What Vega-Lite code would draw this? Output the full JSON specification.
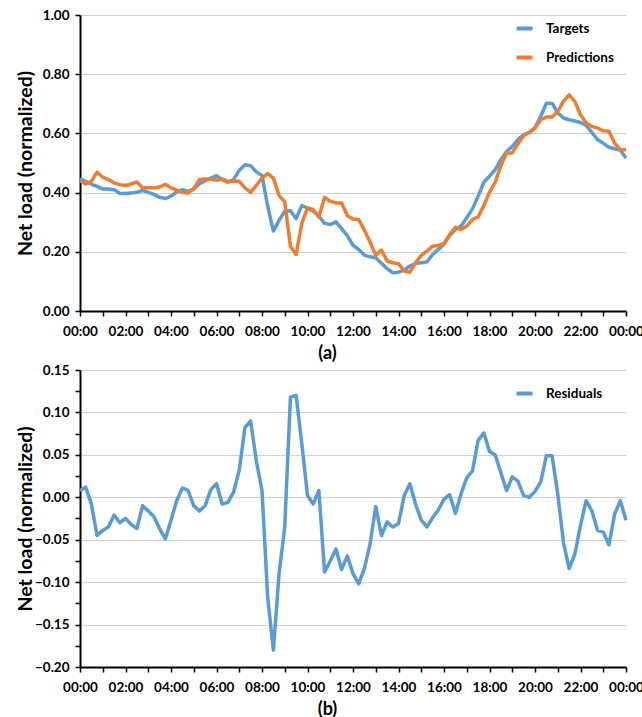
{
  "$schema": "https://vega.github.io/schema/vega-lite/v6.json",
  "background": "white",
  "padding": {"left": 15, "top": 8, "right": 10, "bottom": 0},
  "spacing": 0,
  "config": {
    "font": "Lato",
    "view": {"stroke": null},
    "axis": {
      "domainColor": "black", "domainWidth": 2, "tickColor": "black", "tickWidth": 1.5, "tickSize": 5,
      "labelFont": "Lato", "labelFontWeight": "bold", "labelFontSize": 13.5, "labelColor": "black",
      "titleFont": "Lato", "titleFontWeight": "bold", "titleColor": "black",
      "gridColor": "#D0D0D0", "gridWidth": 1
    },
    "legend": {"labelFont": "Lato", "labelFontWeight": "bold", "labelFontSize": 13.5, "labelColor": "black"}
  },
  "datasets": {
    "d": [
      {"h":0,"tgt":0.446,"prd":0.440,"res":0.008},{"h":0.25,"tgt":0.438,"prd":0.429,"res":0.012},{"h":0.5,"tgt":0.429,"prd":0.438,"res":-0.008},{"h":0.75,"tgt":0.421,"prd":0.469,"res":-0.045},
      {"h":1,"tgt":0.412,"prd":0.452,"res":-0.039},{"h":1.25,"tgt":0.412,"prd":0.444,"res":-0.035},{"h":1.5,"tgt":0.410,"prd":0.433,"res":-0.021},{"h":1.75,"tgt":0.397,"prd":0.427,"res":-0.030},
      {"h":2,"tgt":0.397,"prd":0.424,"res":-0.025},{"h":2.25,"tgt":0.399,"prd":0.429,"res":-0.032},{"h":2.5,"tgt":0.401,"prd":0.436,"res":-0.037},{"h":2.75,"tgt":0.407,"prd":0.416,"res":-0.010},
      {"h":3,"tgt":0.401,"prd":0.416,"res":-0.016},{"h":3.25,"tgt":0.394,"prd":0.416,"res":-0.023},{"h":3.5,"tgt":0.384,"prd":0.419,"res":-0.037},{"h":3.75,"tgt":0.380,"prd":0.428,"res":-0.049},
      {"h":4,"tgt":0.388,"prd":0.416,"res":-0.027},{"h":4.25,"tgt":0.402,"prd":0.408,"res":-0.004},{"h":4.5,"tgt":0.410,"prd":0.401,"res":0.011},{"h":4.75,"tgt":0.404,"prd":0.399,"res":0.008},
      {"h":5,"tgt":0.412,"prd":0.413,"res":-0.010},{"h":5.25,"tgt":0.430,"prd":0.444,"res":-0.016},{"h":5.5,"tgt":0.440,"prd":0.446,"res":-0.010},{"h":5.75,"tgt":0.449,"prd":0.446,"res":0.009},
      {"h":6,"tgt":0.457,"prd":0.442,"res":0.016},{"h":6.25,"tgt":0.444,"prd":0.446,"res":-0.008},{"h":6.5,"tgt":0.435,"prd":0.438,"res":-0.006},{"h":6.75,"tgt":0.444,"prd":0.438,"res":0.006},
      {"h":7,"tgt":0.475,"prd":0.438,"res":0.032},{"h":7.25,"tgt":0.494,"prd":0.416,"res":0.082},{"h":7.5,"tgt":0.491,"prd":0.401,"res":0.090},{"h":7.75,"tgt":0.470,"prd":0.424,"res":0.043},
      {"h":8,"tgt":0.458,"prd":0.449,"res":0.008},{"h":8.25,"tgt":0.354,"prd":0.464,"res":-0.118},{"h":8.5,"tgt":0.270,"prd":0.449,"res":-0.180},{"h":8.75,"tgt":0.306,"prd":0.390,"res":-0.090},
      {"h":9,"tgt":0.337,"prd":0.369,"res":-0.035},{"h":9.25,"tgt":0.339,"prd":0.219,"res":0.118},{"h":9.5,"tgt":0.312,"prd":0.191,"res":0.120},{"h":9.75,"tgt":0.356,"prd":0.296,"res":0.063},
      {"h":10,"tgt":0.348,"prd":0.348,"res":0.002},{"h":10.25,"tgt":0.337,"prd":0.343,"res":-0.008},{"h":10.5,"tgt":0.320,"prd":0.318,"res":0.008},{"h":10.75,"tgt":0.296,"prd":0.384,"res":-0.088},
      {"h":11,"tgt":0.292,"prd":0.371,"res":-0.075},{"h":11.25,"tgt":0.301,"prd":0.365,"res":-0.061},{"h":11.5,"tgt":0.278,"prd":0.365,"res":-0.085},{"h":11.75,"tgt":0.255,"prd":0.322,"res":-0.069},
      {"h":12,"tgt":0.222,"prd":0.311,"res":-0.090},{"h":12.25,"tgt":0.208,"prd":0.309,"res":-0.102},{"h":12.5,"tgt":0.189,"prd":0.273,"res":-0.084},{"h":12.75,"tgt":0.183,"prd":0.233,"res":-0.055},
      {"h":13,"tgt":0.180,"prd":0.188,"res":-0.011},{"h":13.25,"tgt":0.161,"prd":0.206,"res":-0.045},{"h":13.5,"tgt":0.143,"prd":0.169,"res":-0.029},{"h":13.75,"tgt":0.129,"prd":0.163,"res":-0.035},
      {"h":14,"tgt":0.131,"prd":0.160,"res":-0.031},{"h":14.25,"tgt":0.138,"prd":0.135,"res":0.002},{"h":14.5,"tgt":0.152,"prd":0.131,"res":0.016},{"h":14.75,"tgt":0.160,"prd":0.163,"res":-0.008},
      {"h":15,"tgt":0.163,"prd":0.188,"res":-0.027},{"h":15.25,"tgt":0.166,"prd":0.202,"res":-0.035},{"h":15.5,"tgt":0.191,"prd":0.219,"res":-0.024},{"h":15.75,"tgt":0.208,"prd":0.221,"res":-0.015},
      {"h":16,"tgt":0.226,"prd":0.228,"res":-0.002},{"h":16.25,"tgt":0.255,"prd":0.258,"res":0.003},{"h":16.5,"tgt":0.275,"prd":0.283,"res":-0.019},{"h":16.75,"tgt":0.287,"prd":0.275,"res":0.004},
      {"h":17,"tgt":0.315,"prd":0.287,"res":0.023},{"h":17.25,"tgt":0.345,"prd":0.309,"res":0.031},{"h":17.5,"tgt":0.388,"prd":0.318,"res":0.067},{"h":17.75,"tgt":0.435,"prd":0.356,"res":0.076},
      {"h":18,"tgt":0.455,"prd":0.401,"res":0.054},{"h":18.25,"tgt":0.478,"prd":0.435,"res":0.050},{"h":18.5,"tgt":0.511,"prd":0.491,"res":0.029},{"h":18.75,"tgt":0.539,"prd":0.534,"res":0.008},
      {"h":19,"tgt":0.556,"prd":0.534,"res":0.024},{"h":19.25,"tgt":0.579,"prd":0.565,"res":0.019},{"h":19.5,"tgt":0.596,"prd":0.592,"res":0.002},{"h":19.75,"tgt":0.603,"prd":0.603,"res":0.000},
      {"h":20,"tgt":0.620,"prd":0.618,"res":0.007},{"h":20.25,"tgt":0.657,"prd":0.646,"res":0.018},{"h":20.5,"tgt":0.702,"prd":0.655,"res":0.049},{"h":20.75,"tgt":0.702,"prd":0.655,"res":0.049},
      {"h":21,"tgt":0.669,"prd":0.674,"res":0.004},{"h":21.25,"tgt":0.652,"prd":0.708,"res":-0.053},{"h":21.5,"tgt":0.646,"prd":0.730,"res":-0.084},{"h":21.75,"tgt":0.642,"prd":0.708,"res":-0.067},
      {"h":22,"tgt":0.637,"prd":0.663,"res":-0.033},{"h":22.25,"tgt":0.627,"prd":0.635,"res":-0.004},{"h":22.5,"tgt":0.603,"prd":0.624,"res":-0.016},{"h":22.75,"tgt":0.579,"prd":0.618,"res":-0.039},
      {"h":23,"tgt":0.567,"prd":0.609,"res":-0.041},{"h":23.25,"tgt":0.553,"prd":0.607,"res":-0.056},{"h":23.5,"tgt":0.548,"prd":0.567,"res":-0.020},{"h":23.75,"tgt":0.543,"prd":0.545,"res":-0.004},
      {"h":24,"tgt":0.517,"prd":0.545,"res":-0.027}
    ]
  },
  "resolve": {"scale": {"color": "independent"}, "legend": {"color": "independent"}},
  "vconcat": [
    {
      "width": 546, "height": 296,
      "data": {"name": "d"},
      "encoding": {
        "x": {"field": "h", "type": "quantitative", "scale": {"domain": [0, 24], "nice": false, "zero": false},
          "axis": {"title": "(a)", "titleFontSize": 18, "titleX": 247, "titlePadding": 7, "labelPadding": 8, "grid": false,
            "values": [0,1,2,3,4,5,6,7,8,9,10,11,12,13,14,15,16,17,18,19,20,21,22,23,24],
            "labelExpr": "datum.value % 2 == 0 ? ((datum.value % 24) < 10 ? '0' : '') + (datum.value % 24) + ':00' : ''",
            "labelFlush": false, "labelOverlap": false}}
      },
      "layer": [
        {
          "mark": {"type": "line", "strokeWidth": 3.5, "strokeJoin": "round"},
          "encoding": {
            "y": {"field": "tgt", "type": "quantitative", "scale": {"domain": [0, 1], "nice": false},
              "axis": {"title": "Net load (normalized)", "titleFontSize": 19.5, "titlePadding": 7, "labelPadding": 6,
                "values": [0,0.1,0.2,0.3,0.4,0.5,0.6,0.7,0.8,0.9,1.0],
                "labelExpr": "round(datum.value*10) % 2 == 0 ? format(datum.value, '.2f') : ''",
                "gridOpacity": {"condition": {"test": "round(datum.value*10) % 2 == 0", "value": 1}, "value": 0},
                "labelOverlap": false, "labelFlush": false}},
            "color": {"datum": "Targets", "type": "nominal",
              "scale": {"domain": ["Targets", "Predictions"], "range": ["#5B9BD5", "#ED7D31"]},
              "legend": {"title": null, "orient": "none", "legendX": 434, "legendY": 3, "symbolType": "stroke",
                "symbolStrokeWidth": 4, "symbolSize": 260, "rowPadding": 10, "labelOffset": 11}}
          }
        },
        {
          "mark": {"type": "line", "strokeWidth": 3.5, "strokeJoin": "round"},
          "encoding": {
            "y": {"field": "prd", "type": "quantitative"},
            "color": {"datum": "Predictions", "type": "nominal"}
          }
        }
      ]
    },
    {
      "width": 546, "height": 297,
      "data": {"name": "d"},
      "mark": {"type": "line", "strokeWidth": 3.5, "strokeJoin": "round"},
      "encoding": {
        "x": {"field": "h", "type": "quantitative", "scale": {"domain": [0, 24], "nice": false, "zero": false},
          "axis": {"title": "(b)", "titleFontSize": 18, "titleX": 247, "titlePadding": 7, "labelPadding": 8, "grid": false,
            "values": [0,1,2,3,4,5,6,7,8,9,10,11,12,13,14,15,16,17,18,19,20,21,22,23,24],
            "labelExpr": "datum.value % 2 == 0 ? ((datum.value % 24) < 10 ? '0' : '') + (datum.value % 24) + ':00' : ''",
            "labelFlush": false, "labelOverlap": false}},
        "y": {"field": "res", "type": "quantitative", "scale": {"domain": [-0.2, 0.15], "nice": false, "zero": false},
          "axis": {"title": "Net load (normalized)", "titleFontSize": 19.5, "titlePadding": -1, "labelPadding": 6,
            "values": [-0.2,-0.175,-0.15,-0.125,-0.1,-0.075,-0.05,-0.025,0,0.025,0.05,0.075,0.1,0.125,0.15],
            "labelExpr": "abs(round(datum.value*40)) % 2 == 0 ? format(datum.value, '.2f') : ''",
            "gridOpacity": {"condition": {"test": "abs(round(datum.value*40)) % 2 == 0", "value": 1}, "value": 0},
            "labelOverlap": false, "labelFlush": false}},
        "color": {"datum": "Residuals", "type": "nominal",
          "scale": {"domain": ["Residuals"], "range": ["#5B9BD5"]},
          "legend": {"title": null, "orient": "none", "legendX": 434, "legendY": 13, "symbolType": "stroke",
            "symbolStrokeWidth": 4, "symbolSize": 260, "labelOffset": 11}}
      }
    }
  ]
}
